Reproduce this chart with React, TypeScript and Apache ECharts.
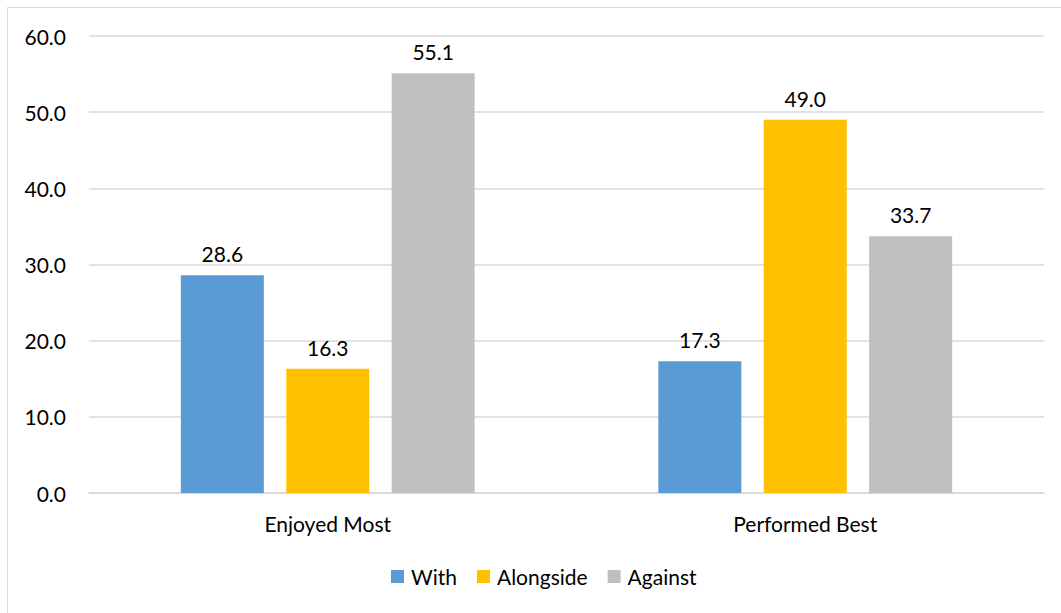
import React, { useEffect, useRef } from "react";
import * as echarts from "echarts";

const categories = ["Enjoyed Most", "Performed Best"];
const seriesNames = ["With", "Alongside", "Against"];
const withValues = [28.6, 17.3];
const alongsideValues = [16.3, 49.0];
const againstValues = [55.1, 33.7];
const colors = ["#5B9BD5", "#FFC000", "#BFBFBF"];

const FONT = "Lato";
const FS = 21;

export default function App() {
  const ref = useRef<HTMLDivElement>(null);
  useEffect(() => {
    document.body.style.margin = "0";
    const chart = echarts.init(ref.current!, undefined, { renderer: "svg" });
    const values = [withValues, alongsideValues, againstValues];
    chart.setOption({
      animation: false,
      textStyle: { fontFamily: FONT },
      graphic: [
        {
          type: "rect",
          shape: { x: 7.5, y: 7.5, width: 1100, height: 700 },
          style: { fill: "none", stroke: "#d9d9d9", lineWidth: 1 },
          silent: true,
        },
      ],
      grid: { left: 89, right: 17, top: 36, bottom: 120, containLabel: false },
      legend: {
        bottom: 21,
        left: 386,
        itemWidth: 13,
        itemHeight: 13,
        itemGap: 20,
        icon: "rect",
        textStyle: { fontSize: FS, color: "#000", fontFamily: FONT, padding: [0, 0, 0, 2] },
        data: seriesNames,
      },
      xAxis: {
        type: "category",
        data: categories,
        axisLine: { lineStyle: { color: "#d9d9d9", width: 1.5 } },
        axisTick: { show: false },
        axisLabel: { fontSize: FS, color: "#000", margin: 20, fontFamily: FONT },
      },
      yAxis: {
        type: "value",
        min: 0,
        max: 60,
        interval: 10,
        axisLine: { show: false },
        axisTick: { show: false },
        splitLine: { lineStyle: { color: "#d9d9d9", width: 1.5 } },
        axisLabel: {
          fontSize: FS,
          color: "#000",
          margin: 23,
          fontFamily: FONT,
          formatter: (v: number) => v.toFixed(1),
        },
      },
      series: seriesNames.map((name, i) => ({
        name,
        type: "bar",
        data: values[i],
        barWidth: 83,
        barGap: "27%",
        itemStyle: { color: colors[i] },
        label: {
          show: true,
          position: "top",
          distance: 11,
          fontSize: FS,
          color: "#000",
          fontFamily: FONT,
          formatter: (p: any) => Number(p.value).toFixed(1),
        },
      })),
    });
    return () => chart.dispose();
  }, []);
  return <div ref={ref} style={{ width: 1061, height: 613 }} />;
}
